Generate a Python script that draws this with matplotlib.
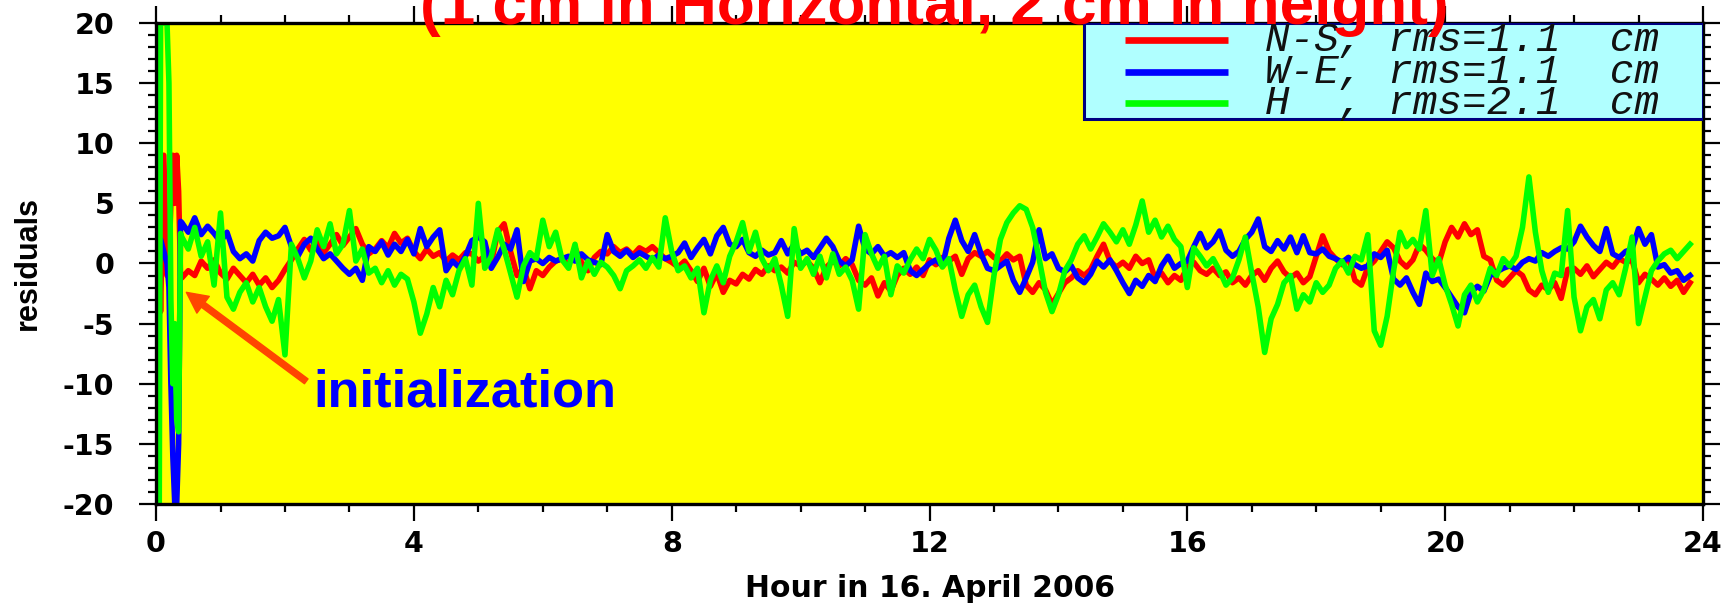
import numpy as np
import matplotlib
matplotlib.use("Agg")
import matplotlib.pyplot as plt
from matplotlib import font_manager
from matplotlib.patches import Rectangle

# first minutes of the day: filter initialization (hours, cm)
init_hours = [0.00, 0.02, 0.05, 0.07, 0.12, 0.17, 0.20, 0.23, 0.26, 0.29, 0.32, 0.35, 0.38]
init_ns = [0, -3, 2, -4, 9, -1, 0, 5, 9, 5, 9, 6, -1]
init_we = [20, 18, 0, 2, 1, 0, -2, -10, -16, -20, -20, -15, 3.5]
init_h = [19, -20, -20, 20, 20, 20, 15, -3, -10, -5, -13, -14, 2.5]

# after initialization the residuals are read every 0.1 h, from 0.4 h to 23.8 h
step_start, step_end, step = 0.4, 23.8, 0.1

ns_residuals = [
    -1.2, -0.6, -1.0, 0.2, -0.4, 0.3,
    -0.8, -1.3, -0.4, -1.0, -1.6, -0.9, -1.8, -1.2, -2.0, -1.4,
    -0.5, 0.3, 1.2, 2.0, 1.1, 1.8, 0.9, 1.6, 2.4, 1.5,
    2.2, 2.9, 1.6, 0.8, 1.2, 1.9, 1.3, 2.5, 1.7, 2.1,
    1.0, 0.4, 1.2, 0.6, 0.9, 0.2, 0.7, 0.3, 0.9, 0.8,
    0.2, 0.6, 0.0, 2.6, 3.3, 1.0, -1.0, -0.4, -2.1, -0.6,
    -1.0, -0.3, 0.2, 0.4, -0.2, 1.3, 0.1, -0.6, 0.5, 1.0,
    0.8, 1.4, 0.9, 1.2, 0.7, 1.3, 1.0, 1.4, 0.9, 0.4,
    0.1, -0.3, 0.2, -0.6, -1.5, -0.4, -1.9, -0.8, -2.4, -1.4,
    -1.7, -0.9, -1.3, -0.5, -0.9, -0.2, -0.6, -0.3, -0.8, 0.1,
    -0.2, 0.2, -0.4, -1.6, -0.3, 0.2, -0.2, 0.4, -0.1, -1.4,
    -1.8, -1.2, -2.7, -1.6, -2.3, -1.0, -0.4, -0.9, -0.3, -1.0,
    0.3, -0.1, 0.5, 0.2, 0.6, -0.9, 0.4, 0.9, 0.6, 1.0,
    0.5, 0.2, 0.8, 0.3, 0.6, -1.8, -2.4, -1.6, -2.2, -3.4,
    -2.5, -1.6, -1.2, -0.6, -1.0, -0.5, 0.6, 1.6, 0.2, -0.3,
    0.1, -0.4, 0.6, 0.0, 0.3, -1.2, -0.8, -1.6, -1.0, -1.4,
    -0.3, 0.1, -0.6, -0.9, -0.4, -1.0, -0.7, -1.6, -1.2, -1.8,
    -1.0, -0.6, -1.4, -0.4, 0.2, -0.7, -1.2, -0.8, -1.6, -1.1,
    0.6, 2.3, 1.0, 0.4, -0.1, 0.5, -1.4, -1.8, -0.3, 0.2,
    1.0, 1.8, 1.3, 0.2, -0.3, 0.3, 1.6, 1.1, 0.4, 0.0,
    1.8, 3.0, 2.2, 3.3, 2.4, 2.8, 0.6, 0.3, -1.4, -1.8,
    -1.2, -0.6, -1.0, -2.2, -2.6, -1.8, -2.2, -1.6, -2.9, -0.5,
    -0.4, -0.9, -0.2, -1.1, -0.5, 0.1, -0.3, 0.4, 0.1, 0.3,
    -1.6, -0.9, -1.3, -1.8, -1.2, -1.9, -1.4, -2.4, -1.6,
]

we_residuals = [
    3.4, 2.6, 3.8, 2.4, 3.1, 2.5,
    1.8, 2.6, 1.0, 0.4, 0.8, 0.2, 1.9, 2.6, 2.1, 2.3,
    3.0, 1.4, 0.6, 1.6, 2.1, 1.2, 0.4, 0.8, 0.2, -0.4,
    -0.9, -0.4, -1.4, 1.4, 1.0, 1.8, 0.7, 1.6, 1.0, 2.0,
    0.8, 2.9, 1.4, 2.2, 2.8, -0.6, 0.2, -0.3, 0.6, 1.9,
    2.2, 1.8, -0.4, 0.5, 1.6, 1.2, 2.8, -1.5, 0.2, 0.4,
    0.0, 0.5, 0.2, 0.4, 0.6, 0.2, 0.8, 0.3, 0.1, -0.1,
    2.4, 1.0, 0.6, 1.1, 0.5, 0.9, 0.6, 0.3, 0.7, 0.4,
    0.6, 0.9, 1.7, 0.5, 1.3, 2.0, 0.8, 2.3, 3.0, 1.6,
    1.4, 2.0, 0.9, 0.6, 1.1, 0.7, 0.9, 1.9, 0.8, 1.6,
    0.8, 1.1, 0.5, 1.3, 2.1, 1.4, 0.2, -0.2, 0.3, 3.1,
    1.2, 0.8, 1.4, 0.6, 0.9, 0.5, 0.9, -0.6, -1.0, -0.5,
    0.0, 0.3, -0.2, 2.1, 3.6, 1.9, 1.0, 2.4, 0.8, -0.4,
    -0.6, -0.2, 0.2, -1.4, -2.4, -1.2, 0.1, 2.8, 0.4, 0.8,
    -0.4, -0.7, -0.2, -1.2, -1.6, -0.9, 0.2, -0.3, 0.3, -0.6,
    -1.6, -2.5, -1.4, -1.9, -1.0, -1.5, -0.2, 0.6, -0.4, 0.0,
    0.2, 1.4, 2.5, 1.3, 1.8, 2.7, 1.1, 0.6, 1.0, 2.0,
    2.6, 3.7, 1.4, 1.0, 1.9, 1.2, 2.2, 0.9, 2.3, 0.9,
    0.8, 1.2, 0.6, 0.4, 0.1, 0.5, -0.1, -0.4, -0.2, 0.8,
    0.5, 1.1, -1.3, -1.8, -1.2, -2.4, -3.4, -0.8, -1.5, -1.3,
    -2.0, -2.8, -3.6, -4.1, -2.4, -1.9, -2.3, -1.0, -0.7, -0.4,
    -0.2, -0.5, 0.1, 0.4, 0.2, 0.9, 0.6, 1.0, 1.3, 1.2,
    1.8, 3.1, 2.2, 1.5, 1.0, 2.9, 0.8, 0.5, 1.0, 1.2,
    2.9, 1.6, 2.4, -0.3, -0.1, -0.8, -0.6, -1.4, -1.0,
]

h_residuals = [
    2.2, 1.2, 3.0, 0.6, 1.8, -1.8,
    4.2, -2.8, -3.8, -2.4, -1.6, -3.2, -2.0, -3.6, -4.8, -3.0,
    -7.6, 1.6, 0.4, -1.2, 0.2, 2.8, 1.4, 3.3, 0.8, 1.6,
    4.4, 0.2, 1.2, -0.8, -0.4, -1.6, -0.6, -1.8, -0.9, -1.3,
    -3.2, -5.8, -4.2, -2.0, -3.6, -1.4, -2.6, -0.6, 0.4, -1.8,
    5.0, -0.4, 0.6, 2.8, 1.2, -0.8, -2.8, -0.2, 0.9, 0.4,
    3.6, 1.4, 2.6, 0.3, -0.4, 1.6, -1.2, 0.2, -0.9, 0.1,
    -0.3, -1.0, -2.1, -0.6, -0.2, 0.3, -0.4, 0.5, -0.3, 3.8,
    1.0, -0.6, -0.2, -1.2, -0.4, -4.1, -1.4, -0.2, -1.6, 0.6,
    1.8, 3.4, 1.0, 2.6, 0.4, -0.6, 0.4, -1.8, -4.4, 2.9,
    -0.4, 0.4, -0.9, 0.6, -1.2, 0.8, -0.9, -0.3, -1.4, -3.8,
    2.4, 0.8, -0.4, 0.6, -2.6, -0.2, -0.8, 0.3, 1.2, 0.4,
    2.0, 1.1, -0.3, 0.4, -2.2, -4.4, -2.6, -1.8, -3.6, -4.9,
    -1.0, 2.0, 3.4, 4.2, 4.8, 4.5, 3.0, 0.4, -2.4, -4.0,
    -2.6, -0.6, 0.3, 1.6, 2.3, 1.2, 2.2, 3.3, 2.6, 1.8,
    2.8, 1.6, 3.2, 5.2, 2.6, 3.6, 2.2, 3.1, 2.0, 1.4,
    -2.0, 1.3, 0.6, -0.2, 0.4, -0.6, -1.8, -1.2, 0.3, 2.2,
    -0.8, -3.6, -7.4, -4.6, -3.4, -1.6, -1.0, -3.8, -2.6, -3.2,
    -1.6, -2.4, -1.8, -0.4, 0.2, -0.8, 0.6, 0.3, 2.4, -5.6,
    -6.8, -4.4, -0.6, 2.6, 1.4, 2.0, 1.2, 4.4, -1.0, 0.4,
    -1.8, -3.4, -5.2, -2.6, -1.8, -3.2, -2.2, -0.4, -1.0, 0.4,
    -0.2, 0.6, 3.0, 7.2, 2.6, -0.6, -2.4, -0.8, -1.0, 4.4,
    -2.8, -5.6, -3.6, -3.0, -4.6, -2.2, -1.6, -2.6, -0.4, 2.2,
    -5.0, -2.8, -0.6, 0.2, 0.8, 1.1, 0.4, 1.0, 1.6,
]

series_names = ["N-S", "W-E", "H  "]
series_rms = [1.1, 1.1, 2.1]
series_colors = ["#ff0000", "#0000ff", "#00ff00"]

x_ticks = [0, 4, 8, 12, 16, 20, 24]
y_ticks = [-20, -15, -10, -5, 0, 5, 10, 15, 20]


def pick_narrow_family():
    names = {f.name for f in font_manager.fontManager.ttflist}
    if "Liberation Sans Narrow" in names:
        return "Liberation Sans Narrow", 25
    return "Liberation Sans", 22


def build_series():
    hours = np.round(np.arange(step_start, step_end + step / 2, step), 2)
    hours = np.concatenate([init_hours, hours])
    ns = np.concatenate([init_ns, ns_residuals])
    we = np.concatenate([init_we, we_residuals])
    h = np.concatenate([init_h, h_residuals])
    return hours, [ns, we, h]


def draw_legend(ax):
    box = Rectangle((0.6, 0.8004), 0.4, 0.1996, transform=ax.transAxes,
                    facecolor="#b0ffff", edgecolor="#000080", lw=2.2, zorder=5)
    ax.add_patch(box)
    row_y = [0.9647, 0.8981, 0.8337]
    for y, name, rms, color in zip(row_y, series_names, series_rms, series_colors):
        ax.plot([0.6264, 0.6930], [y, y], transform=ax.transAxes, color=color,
                lw=4.8, solid_capstyle="butt", zorder=6)
        ax.text(0.7170, y, f"{name}, rms={rms}  cm", transform=ax.transAxes,
                family="Liberation Mono", style="italic", fontsize=29.5,
                va="center", ha="left", color="#111111", zorder=6)


def main():
    plt.rcParams["axes.unicode_minus"] = False
    hours, series = build_series()

    fig = plt.figure(figsize=(17.34, 6.08), dpi=100)
    ax = fig.add_axes([0.0900, 0.1711, 0.8921, 0.7911])
    ax.set_facecolor("#ffff00")

    for values, color in zip(series, series_colors):
        ax.plot(hours, values, color=color, lw=4.0)

    ax.set_xlim(0, 24)
    ax.set_ylim(-20, 20)
    ax.set_xticks(x_ticks)
    ax.set_xticks(range(25), minor=True)
    ax.set_yticks(y_ticks)
    ax.set_yticks(range(-20, 21), minor=True)
    ax.tick_params(which="both", direction="out", top=True, right=True,
                   width=1.6, colors="black")
    ax.tick_params(which="major", length=12, labelsize=20.5)
    ax.tick_params(axis="x", which="major", pad=7)
    ax.tick_params(axis="y", which="major", pad=18)
    ax.tick_params(which="minor", length=6)
    for lab in ax.get_xticklabels() + ax.get_yticklabels():
        lab.set_fontweight("bold")
    for spine in ax.spines.values():
        spine.set_linewidth(2.4)

    narrow, narrow_size = pick_narrow_family()
    ax.set_ylabel("residuals", family=narrow, fontsize=narrow_size, fontweight="bold")
    ax.yaxis.label.set_va("center")
    ax.yaxis.set_label_coords(-0.0831, 0.5)
    ax.set_xlabel("Hour in 16. April 2006", fontsize=21.5, fontweight="bold")
    ax.xaxis.label.set_va("baseline")
    ax.xaxis.set_label_coords(0.5, -0.1933)

    draw_legend(ax)

    ax.annotate("", xy=(0.47, -2.4), xytext=(2.33, -9.8),
                arrowprops=dict(facecolor="#ff4500", edgecolor="#ff4500",
                                width=4.3, headwidth=15, headlength=15))
    ax.text(2.44, -11.9, "initialization", color="#0000ff", fontsize=37.7,
            fontweight="bold", family="Liberation Sans", va="baseline", ha="left")

    fig.text(0.539, 0.9605, "(1 cm in Horizontal, 2 cm in height)", color="#ff0000",
             fontsize=44.7, fontweight="bold", family="Liberation Sans",
             ha="center", va="baseline")

    fig.savefig("out.png", dpi=100)


if __name__ == "__main__":
    main()
